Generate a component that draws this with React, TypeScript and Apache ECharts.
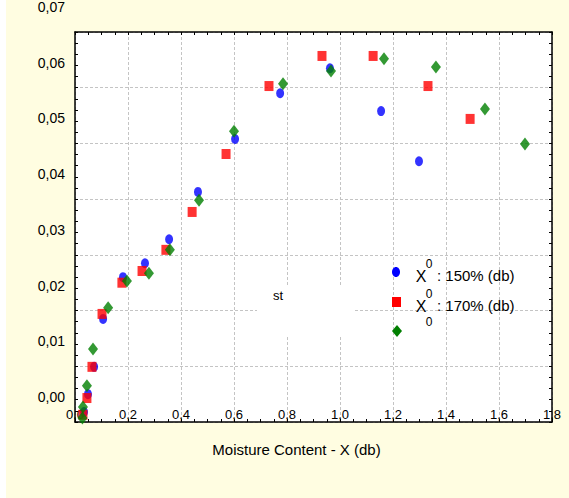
import React, { useEffect, useRef } from "react";
import * as echarts from "echarts";

const FONT = '"Liberation Sans", Arial, sans-serif';

// Moisture content X (db) vs drying rate
const series150: [number, number][] = [
  [0.034, 0.0018], [0.049, 0.005], [0.072, 0.0099], [0.106, 0.0185], [0.181, 0.026],
  [0.264, 0.0285], [0.355, 0.0328], [0.464, 0.0413], [0.604, 0.0508], [0.774, 0.059],
  [0.962, 0.0635], [1.155, 0.0558], [1.298, 0.0468],
];
const series170: [number, number][] = [
  [0.03, 0.0013], [0.045, 0.0043], [0.064, 0.0099], [0.102, 0.0194], [0.177, 0.025],
  [0.253, 0.0271], [0.343, 0.0309], [0.442, 0.0377], [0.57, 0.0481], [0.732, 0.0603],
  [0.932, 0.0657], [1.125, 0.0657], [1.332, 0.0603], [1.491, 0.0544],
];
const series3: [number, number][] = [
  [0.028, 0.0007], [0.03, 0.0027], [0.045, 0.0065], [0.068, 0.0131], [0.125, 0.0205],
  [0.196, 0.0253], [0.279, 0.0267], [0.358, 0.0309], [0.468, 0.0398], [0.6, 0.0522],
  [0.785, 0.0607], [0.966, 0.063], [1.166, 0.0652], [1.362, 0.0637], [1.547, 0.0562],
  [1.698, 0.0499],
];
const legendLabels = [": 150% (db)", ": 170% (db)"];
const xTitle = "Moisture Content - X (db)";

export default function App() {
  const ref = useRef<HTMLDivElement>(null);
  useEffect(() => {
    if (!ref.current) return;
    const chart = echarts.init(ref.current, null, { renderer: "svg" });
    const gridDash = { color: "#c4c4c4", type: [3, 2] as any, width: 1 };
    const tickStyle = { color: "#000", width: 1 };
    const txt = (x: number, y: number, text: string, size: number, align = "center") => ({
      type: "text", x, y, z: 6,
      style: { text, fontFamily: FONT, fontSize: size, fill: "#000", align, verticalAlign: "middle" },
    });
    chart.setOption({
      animation: false,
      backgroundColor: "transparent",
      grid: {
        left: 75, top: 32, right: 17, bottom: 76,
        containLabel: false, outerBoundsMode: "none",
        show: true, backgroundColor: "#ffffff", borderWidth: 0,
      },
      xAxis: [
        {
          type: "value", min: 0, max: 1.8, interval: 0.2,
          axisLine: { show: true, onZero: false, lineStyle: { color: "#000", width: 1.5 } },
          axisTick: { show: true, inside: true, length: 3, lineStyle: tickStyle },
          minorTick: { show: true, splitNumber: 4, length: 3, lineStyle: tickStyle },
          splitLine: { show: true, lineStyle: gridDash },
          axisLabel: {
            inside: true, margin: 1, fontFamily: FONT, fontSize: 13, color: "#000",
            showMinLabel: true, showMaxLabel: true, hideOverlap: false,
            formatter: (v: number) => v.toFixed(1).replace(".", ","),
          },
          name: xTitle, nameLocation: "middle", nameGap: 20,
          nameTextStyle: { fontFamily: FONT, fontSize: 15, color: "#000", padding: [0, 34, 0, 0] },
        },
        {
          type: "value", min: 0, max: 1.8, interval: 0.2, position: "top",
          axisLine: { show: true, onZero: false, lineStyle: { color: "#000", width: 1.5 } },
          axisTick: { show: true, inside: true, length: 3, lineStyle: tickStyle },
          minorTick: { show: true, splitNumber: 4, length: 3, lineStyle: tickStyle },
          splitLine: { show: false }, axisLabel: { show: false },
        },
      ],
      yAxis: [
        {
          type: "value", min: 0, max: 0.07, interval: 0.01,
          axisLine: { show: true, onZero: false, lineStyle: { color: "#000", width: 1.5 } },
          axisTick: { show: true, inside: true, length: 3, lineStyle: tickStyle },
          minorTick: { show: true, splitNumber: 5, length: 3, lineStyle: tickStyle },
          splitLine: { show: true, lineStyle: gridDash },
          axisLabel: {
            margin: 10, fontFamily: FONT, fontSize: 14, color: "#000",
            lineHeight: 50, verticalAlign: "bottom",
            showMinLabel: true, showMaxLabel: true, hideOverlap: false,
            formatter: (v: number) => v.toFixed(2).replace(".", ","),
          },
        },
        {
          type: "value", min: 0, max: 0.07, interval: 0.01, position: "right",
          axisLine: { show: true, onZero: false, lineStyle: { color: "#000", width: 1.5 } },
          axisTick: { show: true, inside: true, length: 3, lineStyle: tickStyle },
          minorTick: { show: true, splitNumber: 5, length: 3, lineStyle: tickStyle },
          splitLine: { show: false }, axisLabel: { show: false },
        },
      ],
      series: [
        {
          name: "X0 : 150% (db)", type: "scatter", data: series150,
          symbol: "circle", symbolSize: [8, 10], itemStyle: { color: "#0000ff" },
        },
        {
          name: "X0 : 170% (db)", type: "scatter", data: series170,
          symbol: "rect", symbolSize: [9, 10], itemStyle: { color: "#ff0000" },
        },
        {
          name: "X0", type: "scatter", data: series3,
          symbol: "diamond", symbolSize: [10, 13], itemStyle: { color: "#007f00" },
        },
      ],
      graphic: [
        { type: "rect", shape: { x: 257, y: 287, width: 97, height: 50 }, style: { fill: "#ffffff" }, z: 5 },
        txt(278, 295, "st", 13),
        { type: "ellipse", shape: { cx: 396, cy: 272, rx: 4, ry: 5 }, style: { fill: "#0000ff" }, z: 6 },
        { type: "rect", shape: { x: 392, y: 297, width: 9, height: 10 }, style: { fill: "#ff0000" }, z: 6 },
        { type: "polygon", shape: { points: [[397, 325], [402, 331], [397, 337], [392, 331]] }, style: { fill: "#007f00" }, z: 6 },
        txt(421, 276, "X", 16),
        txt(429, 264, "0", 12),
        txt(437, 275, legendLabels[0], 15, "left"),
        txt(421, 306, "X", 16),
        txt(429, 294, "0", 12),
        txt(437, 305, legendLabels[1], 15, "left"),
        txt(429, 322, "0", 12),
      ],
    });
    return () => chart.dispose();
  }, []);
  return (
    <div
      style={{
        position: "fixed", left: 0, top: 0, width: 569, height: 498,
        background: "linear-gradient(to right, #ffffff 0px, #ffffff 6px, #fffde1 6px)",
      }}
    >
      <div ref={ref} style={{ width: 569, height: 498 }} />
    </div>
  );
}
